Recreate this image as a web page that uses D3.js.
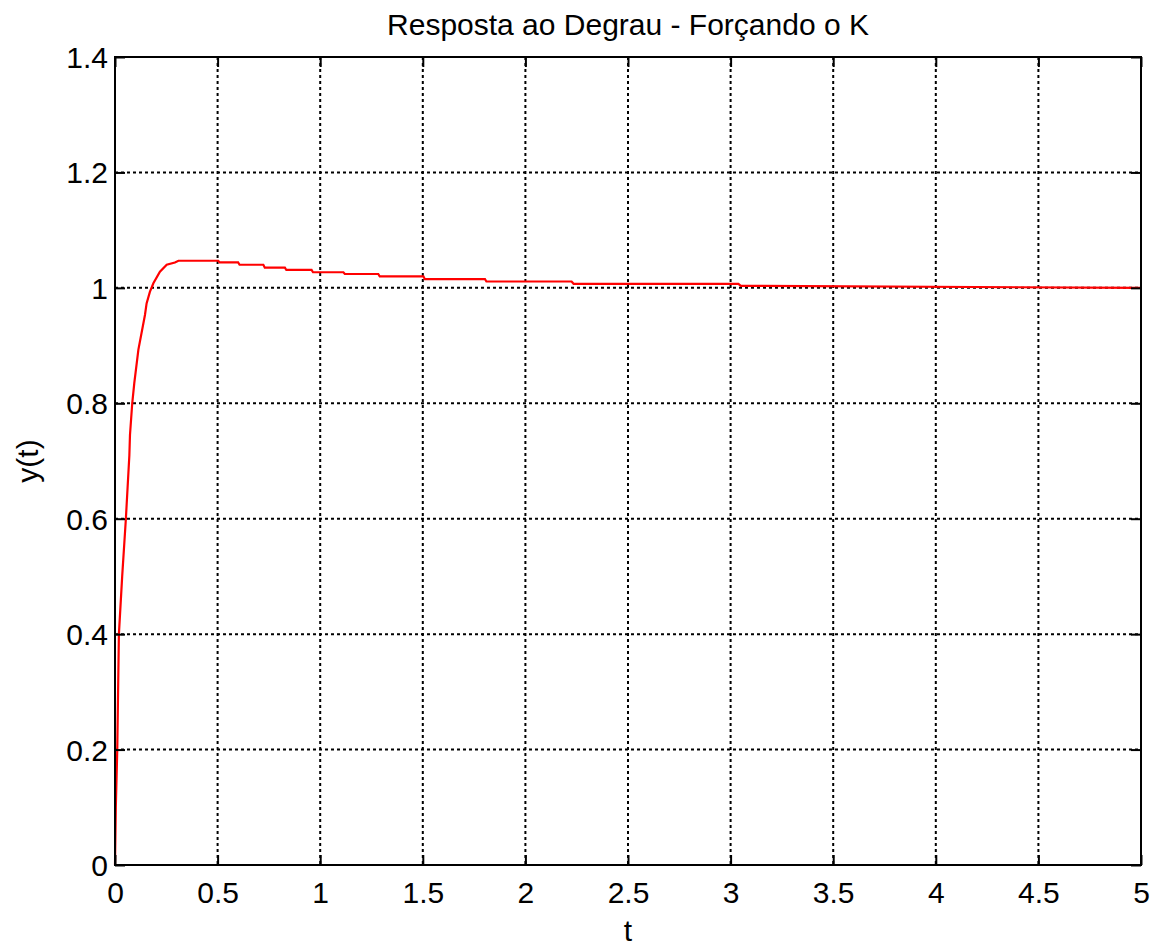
<!DOCTYPE html>
<html>
<head>
<meta charset="utf-8">
<script src="https://cdn.jsdelivr.net/npm/d3@7"></script>
<style>
  body { margin: 0; background: #fff; }
  text { font-family: "Liberation Sans", Arial, sans-serif; fill: #000; }
</style>
</head>
<body>
<div id="wrapper"></div>
<script>
// step response (t in s, y(t))
const tValues = [0, 0.004, 0.011, 0.019, 0.035, 0.053, 0.070, 0.073, 0.084, 0.094, 0.114, 0.146, 0.154, 0.170, 0.187, 0.219, 0.252, 0.292, 0.309,
  0.503, 0.510, 0.600, 0.607, 0.723, 0.730, 0.828, 0.835, 0.958, 0.965, 1.113, 1.120, 1.283, 1.290, 1.503, 1.510, 1.803, 1.810, 2.225, 2.235, 3.038, 3.050, 5];
const yValues = [0, 0.10, 0.20, 0.40, 0.50, 0.60, 0.71, 0.745, 0.80, 0.835, 0.893, 0.953, 0.973, 0.993, 1.008, 1.028, 1.040, 1.044, 1.047,
  1.047, 1.044, 1.044, 1.040, 1.040, 1.035, 1.035, 1.031, 1.031, 1.027, 1.027, 1.024, 1.024, 1.020, 1.020, 1.015, 1.015, 1.011, 1.011, 1.007, 1.007, 1.0035, 1.0, 1.0];
const xTicks = [0, 0.5, 1, 1.5, 2, 2.5, 3, 3.5, 4, 4.5, 5];
const yTicks = [0, 0.2, 0.4, 0.6, 0.8, 1, 1.2, 1.4];
const titleText = "Resposta ao Degrau - Forçando o K";
const xLabel = "t";
const yLabel = "y(t)";

const data = tValues.map((t, i) => ({ t: t, y: yValues[i] }));

let dimensions = {
  width: 1151,
  height: 946,
  margin: { top: 57, left: 115, bottom: 81, right: 10 }
};
dimensions.boundedWidth = dimensions.width - dimensions.margin.left - dimensions.margin.right;
dimensions.boundedHeight = dimensions.height - dimensions.margin.top - dimensions.margin.bottom;

const wrapper = d3.select("#wrapper").append("svg")
  .attr("width", dimensions.width)
  .attr("height", dimensions.height);
const container = wrapper.append("g")
  .attr("transform", `translate(${dimensions.margin.left},${dimensions.margin.top})`);

const xScale = d3.scaleLinear().domain([0, 5]).range([0, dimensions.boundedWidth]);
const yScale = d3.scaleLinear().domain([0, 1.4]).range([dimensions.boundedHeight, 0]);

// dotted grid
container.append("g").selectAll("line.gx")
  .data(xTicks.slice(1, -1)).enter().append("line")
  .attr("x1", d => xScale(d)).attr("x2", d => xScale(d))
  .attr("y1", 0).attr("y2", dimensions.boundedHeight)
  .attr("stroke", "#000").attr("stroke-width", 2).attr("stroke-dasharray", "3,3");
container.append("g").selectAll("line.gy")
  .data(yTicks.slice(1, -1)).enter().append("line")
  .attr("y1", d => yScale(d)).attr("y2", d => yScale(d))
  .attr("x1", 0).attr("x2", dimensions.boundedWidth)
  .attr("stroke", "#000").attr("stroke-width", 2).attr("stroke-dasharray", "3,3");

// response curve
const lineGen = d3.line().x(d => xScale(d.t)).y(d => yScale(d.y));
container.append("path")
  .datum(data)
  .attr("d", lineGen)
  .attr("fill", "none")
  .attr("stroke", "#ff0000")
  .attr("stroke-width", 2.2);

// axes, ticks pointing inward like matlab
const fmt = d => String(d);
const xAxisGen = d3.axisBottom(xScale).tickValues(xTicks).tickFormat(fmt).tickSizeInner(-10).tickSizeOuter(0);
const yAxisGen = d3.axisLeft(yScale).tickValues(yTicks).tickFormat(fmt).tickSizeInner(-10).tickSizeOuter(0);
const xTopGen = d3.axisTop(xScale).tickValues(xTicks).tickFormat("").tickSizeInner(-10).tickSizeOuter(0);
const yRightGen = d3.axisRight(yScale).tickValues(yTicks).tickFormat("").tickSizeInner(-10).tickSizeOuter(0);

const axisX = container.append("g").attr("transform", `translate(0,${dimensions.boundedHeight})`).call(xAxisGen);
const axisY = container.append("g").call(yAxisGen);
const axisTop = container.append("g").call(xTopGen);
const axisRight = container.append("g").attr("transform", `translate(${dimensions.boundedWidth},0)`).call(yRightGen);

[axisX, axisY, axisTop, axisRight].forEach(a => {
  a.select(".domain").remove();
  a.selectAll(".tick line").attr("stroke", "#000").attr("stroke-width", 2);
  a.selectAll("text").style("font-size", "30px").style("font-family", "Liberation Sans, Arial, sans-serif").attr("fill", "#000");
});
axisX.selectAll("text").attr("dy", "0.71em").attr("y", 17);
axisY.selectAll("text").attr("x", -7).attr("dy", "0.35em");

// box
container.append("rect")
  .attr("width", dimensions.boundedWidth)
  .attr("height", dimensions.boundedHeight)
  .attr("fill", "none")
  .attr("stroke", "#000")
  .attr("stroke-width", 2);

// labels
wrapper.append("text")
  .attr("x", dimensions.margin.left + dimensions.boundedWidth / 2)
  .attr("y", 35)
  .attr("text-anchor", "middle")
  .style("font-size", "30px")
  .text(titleText);
wrapper.append("text")
  .attr("x", dimensions.margin.left + dimensions.boundedWidth / 2)
  .attr("y", 941)
  .attr("text-anchor", "middle")
  .style("font-size", "30px")
  .text(xLabel);
wrapper.append("text")
  .attr("transform", `translate(38,${dimensions.margin.top + dimensions.boundedHeight / 2}) rotate(-90)`)
  .attr("text-anchor", "middle")
  .style("font-size", "30px")
  .text(yLabel);
</script>
</body>
</html>
